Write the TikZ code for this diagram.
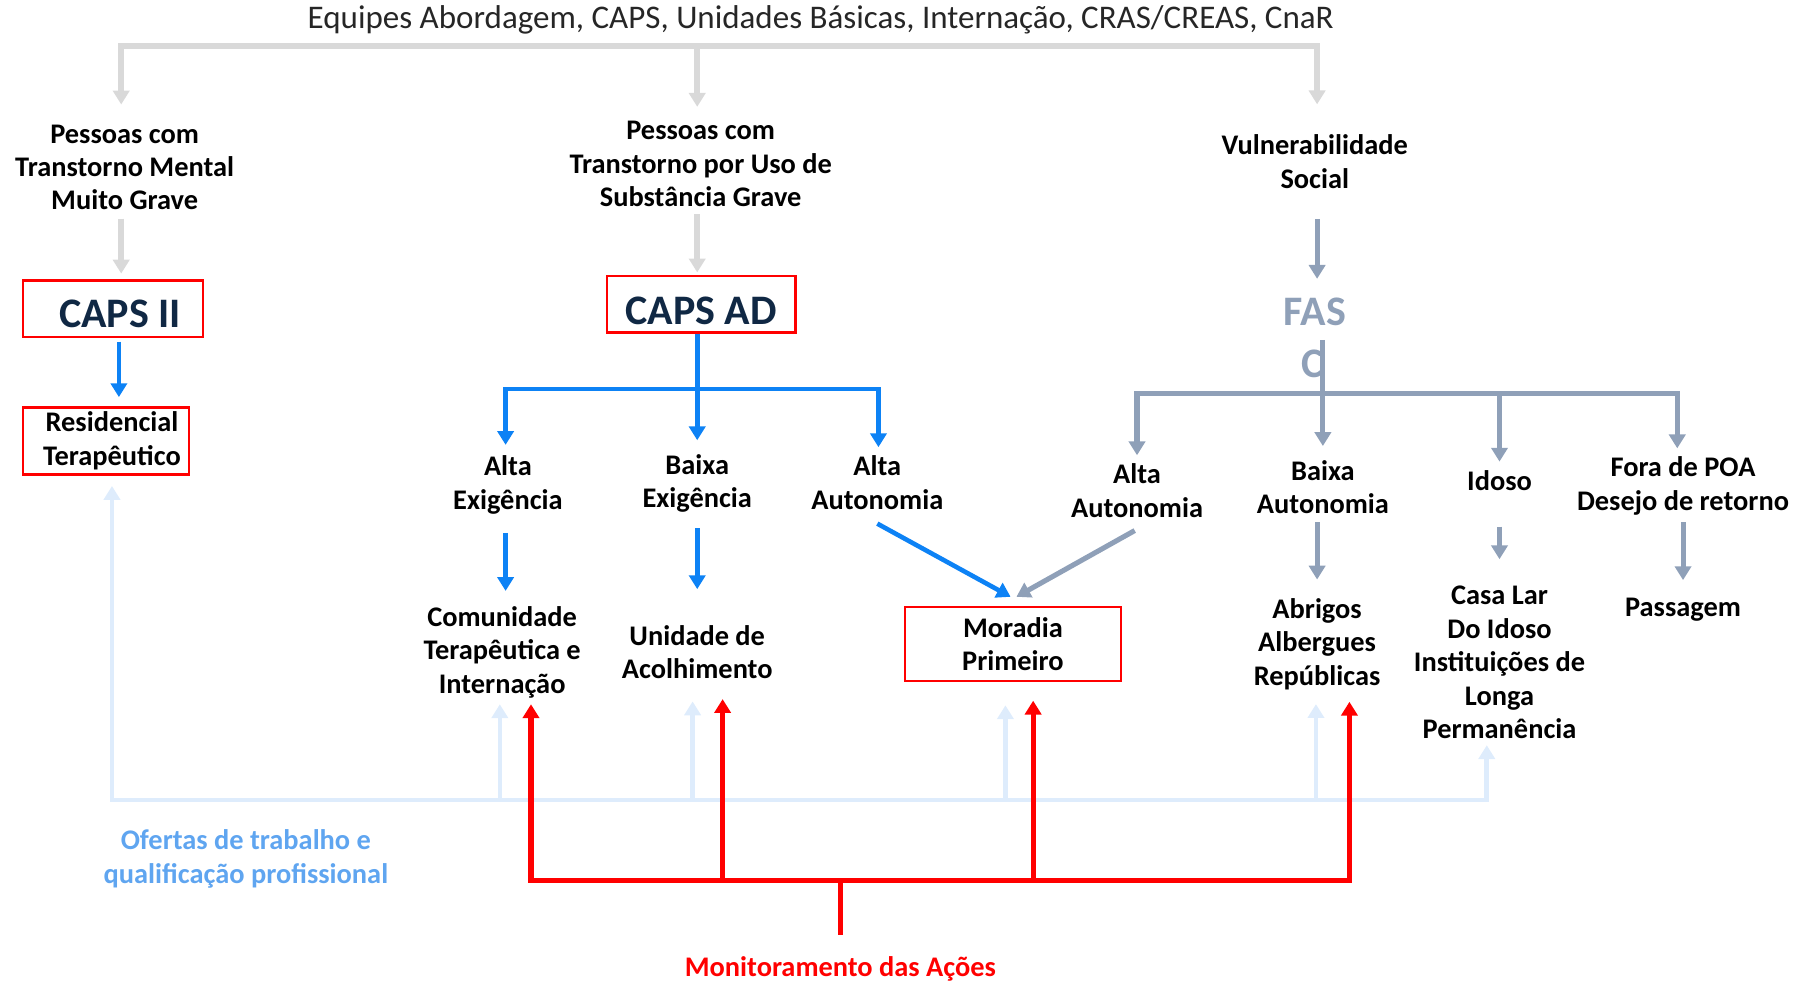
\documentclass[tikz,border=0pt]{standalone}
\usepackage{fontspec}
\setmainfont{Carlito}
\usetikzlibrary{arrows.meta, calc, positioning}

\definecolor{adblue}{RGB}{13,130,245}
\definecolor{fasgray}{RGB}{143,160,184}
\definecolor{topgray}{RGB}{217,217,217}
\definecolor{ofline}{RGB}{222,236,252}
\definecolor{oftext}{RGB}{95,165,240}
\definecolor{capsnavy}{RGB}{16,40,68}

\tikzset{
  lbl/.style={font=\bfseries\fontsize{12.3}{14.5}\selectfont, align=center, inner sep=0pt},
  capsfont/.style={font=\bfseries\fontsize{18.2}{22}\selectfont, text=capsnavy, inner sep=0pt},
  unitbox/.style={draw=red, line width=1pt},
  tip/.style={-{Triangle[length=6pt,width=7pt]}},
  tips/.style={{Triangle[length=6pt,width=7pt]}-{Triangle[length=6pt,width=7pt]}},
  gr/.style={draw=topgray, line width=2.5pt},
  bl/.style={draw=adblue, line width=2pt},
  fg/.style={draw=fasgray, line width=2.2pt},
  ob/.style={draw=ofline, line width=2pt},
  rd/.style={draw=red, line width=2.2pt}
}

\begin{document}
\begin{tikzpicture}[x=0.5pt,y=-0.5pt]
\useasboundingbox (0,0) rectangle (1568,853);

% entradas
\draw (711,17) node[font=\fontsize{14.3}{16}\selectfont, text=black!85, inner sep=0pt] (equipes) {Equipes Abordagem, CAPS, Unidades Básicas, Internação, CRAS/CREAS, CnaR};
\draw (108,145) node[lbl] (mental) {Pessoas com\\Transtorno Mental\\Muito Grave};
\draw (607,142) node[lbl] (subst) {Pessoas com\\Transtorno por Uso de\\Substância Grave};
\draw (1139,140) node[lbl] (vuln) {Vulnerabilidade\\Social};

% servicos
\draw (98,267.5) node[unitbox, capsfont, minimum width=78pt, minimum height=24.5pt] (caps2) {\hspace*{6pt}\raisebox{-2pt}[\height][\depth]{CAPS II}};
\draw (607.5,263.5) node[unitbox, capsfont, minimum width=81.5pt, minimum height=24.5pt] (capsad) {\raisebox{-3pt}[\height][\depth]{CAPS AD}};
\draw (1139,270) node[capsfont, text=fasgray] (fas) {FAS};
\draw (1137,315) node[capsfont, text=fasgray] (fasc) {C};
\draw (92,382) node[unitbox, lbl, minimum width=72pt, minimum height=29pt] (resid) {\hspace*{5pt}Residencial\\\hspace*{5pt}Terapêutico};

% ramo CAPS AD
\draw (440,420) node[lbl] (altaex) {Alta\\Exigência};
\draw (604,419) node[lbl] (baixaex) {Baixa\\Exigência};
\draw (760,418) node[lbl] (altaaut) {Alta\\Autonomia};
\draw (435,565) node[lbl] (comunid) {Comunidade\\Terapêutica e\\Internação};
\draw (604,565) node[lbl] (acolh) {Unidade de\\Acolhimento};
\draw (877.5,558) node[unitbox, lbl, minimum width=93.5pt, minimum height=32pt] (moradia) {Moradia\\Primeiro};

% ramo FAS
\draw (985,425) node[lbl] (fasalta) {Alta\\Autonomia};
\draw (1146,422) node[lbl] (fasbaixa) {Baixa\\Autonomia};
\draw (1299,416) node[lbl] (idoso) {Idoso};
\draw (1458,421) node[lbl] (fora) {Fora de POA\\Desejo de retorno};
\draw (1141,558) node[lbl] (abrigos) {Abrigos\\Albergues\\Repúblicas};
\draw (1299,574) node[lbl] (casalar) {Casa Lar\\Do Idoso\\Instituições de\\Longa\\Permanência};
\draw (1458,528) node[lbl] (passagem) {Passagem};

\draw (213,744) node[lbl, text=oftext] (ofertas) {Ofertas de trabalho e\\qualificação profissional};
\draw (728,839) node[lbl, text=red] (monit) {Monitoramento das Ações};

% junções
\coordinate (tl) at (105,40);
\coordinate (tm) at (604,40);
\coordinate (tr) at (1141,40);
\coordinate (adj) at (604,337);
\coordinate (adl) at (438,337);
\coordinate (adr) at (761,337);
\coordinate (fj) at (1146,341);
\coordinate (fl) at (985,341);
\coordinate (fr) at (1453,341);
\coordinate (fi) at (1299,341);
\coordinate (ol) at (97,693);
\coordinate (or) at (1288,693);
\coordinate (ob1) at (433,693);
\coordinate (ob2) at (600,693);
\coordinate (ob3) at (871,693);
\coordinate (ob4) at (1140,693);
\coordinate (r1) at (460,763);
\coordinate (r2) at (626,763);
\coordinate (r3) at (895,763);
\coordinate (r4) at (1169,763);
\coordinate (rm) at (728,763);

% entradas -> servicos
\draw[gr, tips, shorten <=8.5pt, shorten >=13pt] (tl |- mental.north) -- (tl) -- (tr) -- (tr |- vuln.north);
\draw[gr, tip, shorten >=6pt] (tm) -- (tm |- subst.north);
\draw[gr, tip, shorten <=3.5pt, shorten >=2.5pt] (mental.south -| tl) -- (tl |- caps2.north);
\draw[gr, tip, shorten <=3pt, shorten >=1pt] (subst.south -| tm) -- (tm |- capsad.north);
\draw[fg, tip, shorten <=13pt, shorten >=8pt] (vuln.south -| tr) -- (tr |- fas.north);
\draw[bl, tip, shorten <=1.5pt, shorten >=4pt] (caps2.south -| 103,0) -- (resid.north -| 103,0);

% CAPS AD
\draw[bl, tip, shorten >=6pt] (capsad.south -| adj) -- (adj |- baixaex.north);
\draw[bl, tips, shorten <=4.5pt, shorten >=3.5pt] (adl |- altaex.north) -- (adl) -- (adr) -- (adr |- altaaut.north);
\draw[bl, tip, shorten <=8pt, shorten >=6.5pt] (altaex.south -| adl) -- (adl |- comunid.north);
\draw[bl, tip, shorten <=6.5pt, shorten >=15.5pt] (baixaex.south) -- (acolh.north);
\draw[bl, tip] ($(altaaut.south)+(0,12)$) -- ($(moradia.north)+(-2,-8)$);

% FAS
\draw[fg, tip, shorten <=6pt, shorten >=6pt] (fas.south -| fj) -- (fj |- fasbaixa.north);
\draw[fg, tips, shorten <=3.5pt, shorten >=3.5pt] (fl |- fasalta.north) -- (fl) -- (fr) -- (fr |- fora.north);
\draw[fg, tip, shorten >=3.5pt] (fi) -- (fi |- idoso.north);
\draw[fg, tip] ($(fasalta.south)+(-2,11)$) -- ($(moradia.north)+(3,-8)$);
\draw[fg, tip, shorten <=3.5pt, shorten >=8pt] (fasbaixa.south -| tr) -- (tr |- abrigos.north);
\draw[fg, tip, shorten <=15.5pt, shorten >=11.5pt] (idoso.south) -- (casalar.north);
\draw[fg, tip, shorten <=3pt, shorten >=7.5pt] (fora.south) -- (passagem.north);

% ofertas de trabalho
\draw[ob, tips, shorten <=2.5pt, shorten >=4.5pt] (or |- casalar.south) -- (or) -- (ol) -- (ol |- resid.south);
\draw[ob, tip, shorten >=2.5pt] (ob1) -- (ob1 |- comunid.south);
\draw[ob, tip, shorten >=9.5pt] (ob2) -- (ob2 |- acolh.south);
\draw[ob, tip, shorten >=10pt] (ob3) -- (ob3 |- moradia.south);
\draw[ob, tip, shorten >=6pt] (ob4) -- (ob4 |- abrigos.south);

% monitoramento
\draw[rd, tips, shorten <=2.5pt, shorten >=5pt] (r1 |- comunid.south) -- (r1) -- (r4) -- (r4 |- abrigos.south);
\draw[rd, tip, shorten >=8.5pt] (r2) -- (r2 |- acolh.south);
\draw[rd, tip, shorten >=8pt] (r3) -- (r3 |- moradia.south);
\draw[rd, shorten >=9pt] (rm) -- (rm |- monit.north);
\end{tikzpicture}
\end{document}
